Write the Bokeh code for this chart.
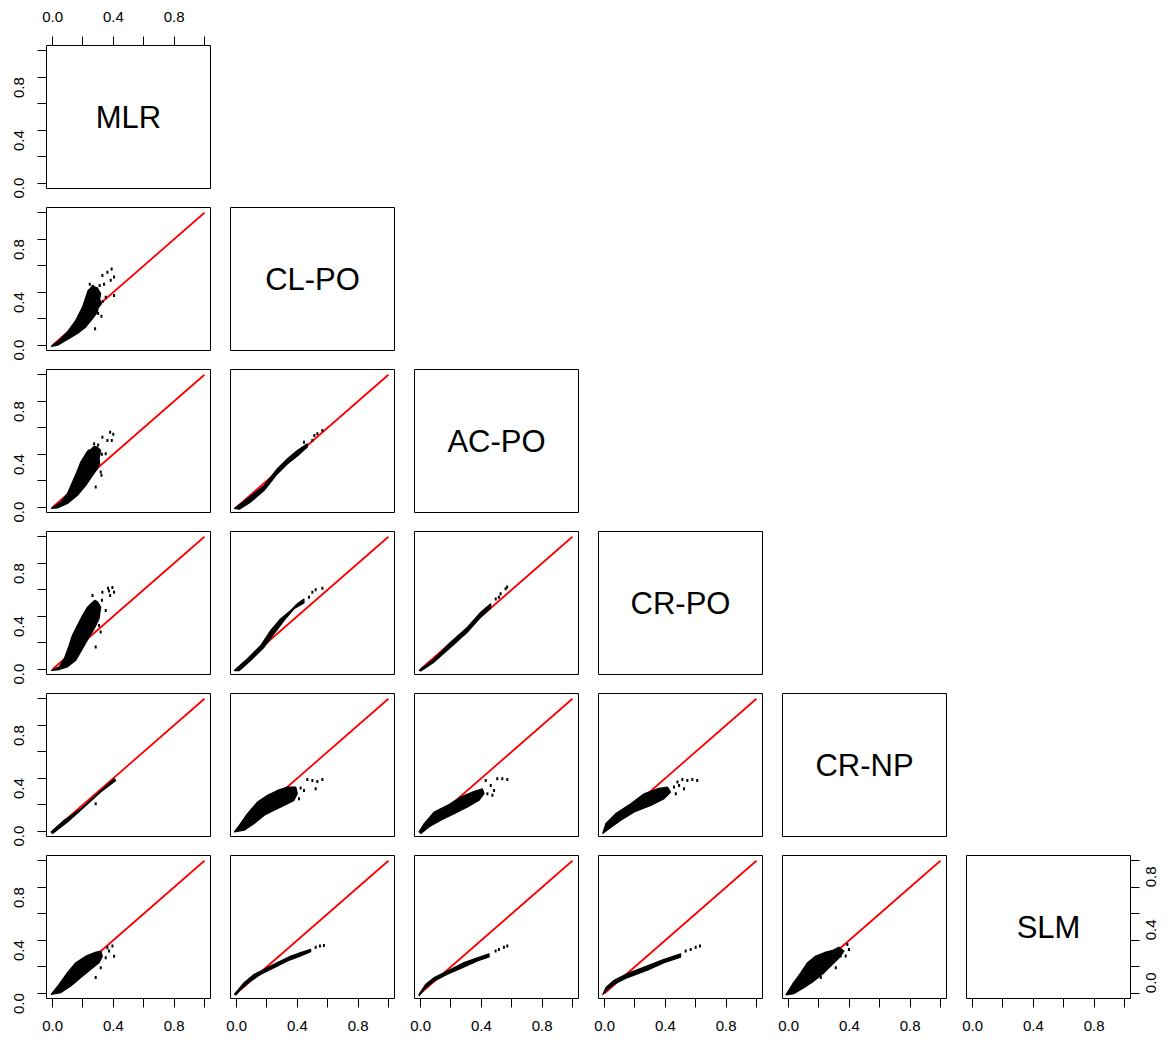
import math
from bokeh.plotting import figure
from bokeh.layouts import gridplot
from bokeh.models import LinearAxis, FixedTicker, Range1d
from bokeh.core.properties import value
from bokeh.embed import file_html
from bokeh.resources import INLINE

# ---------------- data ----------------
VARS = ["MLR", "CL-PO", "AC-PO", "CR-PO", "CR-NP", "SLM"]
TICKS = [0.0, 0.2, 0.4, 0.6, 0.8, 1.0]
TICK_LABELS = ["0.0", "", "0.4", "", "0.8", ""]
REF_LINE = [0.0, 1.0]          # the red y = x reference

# dense point clouds (outline of the black mass) and isolated points, per panel (y vs x)
CLPO_MLR_CLOUD = [(-0.01, -0.01), (0.044, 0.038), (0.098, 0.10), (0.153, 0.188), (0.197, 0.288),
                  (0.219, 0.363), (0.234, 0.414), (0.25, 0.43), (0.263, 0.452), (0.28, 0.44),
                  (0.295, 0.434), (0.306, 0.41), (0.317, 0.39), (0.31, 0.35), (0.322, 0.313),
                  (0.3, 0.28), (0.295, 0.25), (0.263, 0.2), (0.219, 0.138), (0.164, 0.088),
                  (0.098, 0.043), (0.033, 0.0)]
CLPO_MLR_OUT = [(0.328, 0.526), (0.361, 0.551), (0.389, 0.576), (0.405, 0.516), (0.383, 0.491),
                (0.339, 0.461), (0.405, 0.376), (0.28, 0.125), (0.322, 0.218), (0.35, 0.363),
                (0.245, 0.46), (0.31, 0.45), (0.33, 0.33), (0.3, 0.24)]

ACPO_MLR_CLOUD = [(-0.01, -0.01), (0.055, 0.04), (0.098, 0.103), (0.131, 0.19), (0.164, 0.278),
                  (0.186, 0.341), (0.219, 0.404), (0.235, 0.43), (0.252, 0.436), (0.275, 0.46),
                  (0.295, 0.454), (0.317, 0.429), (0.306, 0.366), (0.31, 0.33), (0.295, 0.291),
                  (0.263, 0.241), (0.219, 0.165), (0.164, 0.09), (0.098, 0.028), (0.033, -0.005)]
ACPO_MLR_OUT = [(0.328, 0.529), (0.379, 0.566), (0.4, 0.551), (0.361, 0.504), (0.39, 0.504),
                (0.35, 0.404), (0.317, 0.266), (0.284, 0.153), (0.322, 0.241), (0.274, 0.479),
                (0.3, 0.47), (0.325, 0.4)]

CRPO_MLR_CLOUD = [(-0.01, -0.01), (0.044, 0.018), (0.077, 0.08), (0.109, 0.18), (0.131, 0.256),
                  (0.164, 0.331), (0.197, 0.406), (0.23, 0.469), (0.263, 0.506), (0.28, 0.52),
                  (0.295, 0.51), (0.317, 0.469), (0.306, 0.381), (0.274, 0.306), (0.241, 0.243),
                  (0.197, 0.155), (0.153, 0.068), (0.098, 0.018), (0.033, -0.005)]
CRPO_MLR_OUT = [(0.328, 0.581), (0.365, 0.611), (0.394, 0.617), (0.405, 0.581), (0.379, 0.556),
                (0.372, 0.59), (0.35, 0.444), (0.317, 0.281), (0.284, 0.168), (0.306, 0.33),
                (0.263, 0.556), (0.325, 0.52)]

CRNP_MLR_CLOUD = [(-0.01, -0.005), (0.077, 0.083), (0.186, 0.17), (0.295, 0.283), (0.405, 0.396),
                  (0.416, 0.383), (0.317, 0.296), (0.208, 0.183), (0.098, 0.07), (0.0, -0.018)]
CRNP_MLR_OUT = [(0.284, 0.208)]

SLM_MLR_CLOUD = [(-0.01, -0.01), (0.044, 0.068), (0.098, 0.155), (0.153, 0.23), (0.219, 0.28),
                 (0.274, 0.306), (0.317, 0.318), (0.328, 0.28), (0.306, 0.23), (0.252, 0.18),
                 (0.186, 0.118), (0.12, 0.055), (0.055, 0.005)]
SLM_MLR_OUT = [(0.361, 0.343), (0.394, 0.356), (0.405, 0.28), (0.35, 0.268), (0.284, 0.118),
               (0.317, 0.193), (0.372, 0.318)]

ACPO_CLPO_CLOUD = [(-0.015, -0.01), (0.072, 0.065), (0.182, 0.165), (0.269, 0.291), (0.335, 0.366),
                   (0.4, 0.429), (0.466, 0.479), (0.466, 0.454), (0.4, 0.386), (0.335, 0.328),
                   (0.269, 0.253), (0.182, 0.128), (0.094, 0.04), (0.018, -0.015)]
ACPO_CLPO_OUT = [(0.499, 0.504), (0.532, 0.554), (0.565, 0.579), (0.444, 0.491), (0.512, 0.541)]

CRPO_CLPO_CLOUD = [(-0.015, -0.01), (0.072, 0.08), (0.16, 0.18), (0.225, 0.293), (0.291, 0.381),
                   (0.357, 0.444), (0.4, 0.494), (0.444, 0.531), (0.444, 0.501), (0.378, 0.456),
                   (0.313, 0.368), (0.247, 0.268), (0.182, 0.168), (0.094, 0.068), (0.018, -0.01)]
CRPO_CLPO_OUT = [(0.499, 0.581), (0.521, 0.6), (0.565, 0.612), (0.477, 0.544)]

CRNP_CLPO_CLOUD = [(-0.015, -0.005), (0.018, 0.045), (0.072, 0.133), (0.138, 0.221), (0.204, 0.271),
                   (0.269, 0.308), (0.335, 0.333), (0.39, 0.333), (0.4, 0.283), (0.378, 0.233),
                   (0.313, 0.195), (0.247, 0.158), (0.182, 0.12), (0.116, 0.058), (0.05, 0.008)]
CRNP_CLPO_OUT = [(0.466, 0.391), (0.499, 0.383), (0.532, 0.376), (0.565, 0.391), (0.521, 0.32),
                 (0.444, 0.308), (0.411, 0.246), (0.422, 0.326)]

SLM_CLPO_CLOUD = [(-0.015, -0.008), (0.05, 0.08), (0.116, 0.143), (0.182, 0.18), (0.269, 0.231),
                  (0.357, 0.281), (0.422, 0.306), (0.488, 0.331), (0.488, 0.313), (0.422, 0.281),
                  (0.335, 0.243), (0.247, 0.193), (0.16, 0.143), (0.094, 0.093), (0.028, 0.03),
                  (-0.004, -0.013)]
SLM_CLPO_OUT = [(0.521, 0.348), (0.549, 0.356), (0.575, 0.361)]

CRPO_ACPO_CLOUD = [(-0.01, -0.01), (0.09, 0.08), (0.2, 0.206), (0.309, 0.318), (0.396, 0.431),
                   (0.462, 0.494), (0.462, 0.461), (0.396, 0.393), (0.309, 0.281), (0.2, 0.168),
                   (0.09, 0.055), (0.002, -0.013)]
CRPO_ACPO_OUT = [(0.495, 0.531), (0.527, 0.569), (0.56, 0.607), (0.57, 0.62), (0.516, 0.544)]

CRNP_ACPO_CLOUD = [(-0.01, -0.005), (0.024, 0.058), (0.09, 0.145), (0.177, 0.195), (0.265, 0.258),
                   (0.341, 0.296), (0.407, 0.321), (0.418, 0.283), (0.385, 0.233), (0.309, 0.183),
                   (0.221, 0.133), (0.133, 0.083), (0.057, 0.033), (0.002, -0.018)]
CRNP_ACPO_OUT = [(0.505, 0.396), (0.538, 0.396), (0.571, 0.391), (0.462, 0.346), (0.484, 0.308),
                 (0.44, 0.283), (0.473, 0.271), (0.429, 0.383)]

SLM_ACPO_CLOUD = [(-0.01, -0.008), (0.035, 0.068), (0.09, 0.118), (0.177, 0.168), (0.287, 0.231),
                  (0.374, 0.268), (0.451, 0.298), (0.451, 0.273), (0.374, 0.243), (0.287, 0.198),
                  (0.177, 0.143), (0.09, 0.093), (0.024, 0.03), (-0.01, -0.02)]
SLM_ACPO_OUT = [(0.494, 0.318), (0.516, 0.331), (0.549, 0.348), (0.571, 0.356)]

CRNP_CRPO_CLOUD = [(-0.013, -0.018), (0.009, 0.058), (0.074, 0.133), (0.173, 0.208), (0.26, 0.283),
                   (0.348, 0.321), (0.414, 0.333), (0.435, 0.296), (0.392, 0.246), (0.304, 0.195),
                   (0.195, 0.145), (0.107, 0.083), (0.031, 0.02)]
CRNP_CRPO_OUT = [(0.48, 0.371), (0.512, 0.391), (0.545, 0.383), (0.578, 0.391), (0.61, 0.383),
                 (0.523, 0.321), (0.469, 0.283), (0.491, 0.346), (0.457, 0.333)]

SLM_CRPO_CLOUD = [(-0.013, -0.013), (0.009, 0.043), (0.063, 0.098), (0.151, 0.148), (0.282, 0.206),
                  (0.392, 0.256), (0.501, 0.298), (0.501, 0.273), (0.392, 0.231), (0.282, 0.173),
                  (0.151, 0.118), (0.063, 0.068), (0.009, 0.018)]
SLM_CRPO_OUT = [(0.534, 0.318), (0.567, 0.331), (0.6, 0.348), (0.628, 0.356)]

SLM_CRNP_CLOUD = [(-0.018, -0.013), (0.026, 0.068), (0.081, 0.155), (0.125, 0.231), (0.179, 0.281),
                  (0.234, 0.306), (0.289, 0.323), (0.333, 0.348), (0.365, 0.318), (0.333, 0.268),
                  (0.289, 0.218), (0.234, 0.155), (0.168, 0.093), (0.103, 0.043), (0.037, -0.003)]
SLM_CRNP_OUT = [(0.387, 0.368), (0.398, 0.331), (0.376, 0.281), (0.343, 0.281), (0.311, 0.193),
                (0.212, 0.118), (0.322, 0.318)]

PANELS = {
    (1, 0): (CLPO_MLR_CLOUD, CLPO_MLR_OUT),
    (2, 0): (ACPO_MLR_CLOUD, ACPO_MLR_OUT),
    (3, 0): (CRPO_MLR_CLOUD, CRPO_MLR_OUT),
    (4, 0): (CRNP_MLR_CLOUD, CRNP_MLR_OUT),
    (5, 0): (SLM_MLR_CLOUD, SLM_MLR_OUT),
    (2, 1): (ACPO_CLPO_CLOUD, ACPO_CLPO_OUT),
    (3, 1): (CRPO_CLPO_CLOUD, CRPO_CLPO_OUT),
    (4, 1): (CRNP_CLPO_CLOUD, CRNP_CLPO_OUT),
    (5, 1): (SLM_CLPO_CLOUD, SLM_CLPO_OUT),
    (3, 2): (CRPO_ACPO_CLOUD, CRPO_ACPO_OUT),
    (4, 2): (CRNP_ACPO_CLOUD, CRNP_ACPO_OUT),
    (5, 2): (SLM_ACPO_CLOUD, SLM_ACPO_OUT),
    (4, 3): (CRNP_CRPO_CLOUD, CRNP_CRPO_OUT),
    (5, 3): (SLM_CRPO_CLOUD, SLM_CRPO_OUT),
    (5, 4): (SLM_CRNP_CLOUD, SLM_CRNP_OUT),
}

# ---------------- drawing ----------------
FONT = "Liberation Sans"
N = len(VARS)
LABEL_MAP = {t: l for t, l in zip(TICKS, TICK_LABELS)}
STANDOFF = {"left": 18, "right": 12, "above": 15, "below": 13}


def add_axis(p, loc):
    ax = LinearAxis(ticker=FixedTicker(ticks=TICKS), major_label_overrides=LABEL_MAP,
                    bounds=(TICKS[0], TICKS[-1]),
                    major_tick_out=9, major_tick_in=0, minor_tick_line_color=None,
                    axis_line_color="black", major_tick_line_color="black",
                    major_label_text_font=FONT, major_label_text_font_size="15px",
                    major_label_text_color="black", major_label_standoff=STANDOFF[loc])
    if loc in ("left", "right"):
        ax.major_label_orientation = math.pi / 2
    p.add_layout(ax, loc)


def make_fig(i, j):
    left = 46 if j == 0 else 10
    right = 39 if (i == N - 1 and j == N - 1) else 10
    top = 45 if i == 0 else 9
    bottom = 41 if i == N - 1 else 10
    p = figure(frame_width=164, frame_height=143,
               x_range=Range1d(-0.04, 1.04), y_range=Range1d(-0.04, 1.04),
               x_axis_location=None, y_axis_location=None,
               toolbar_location=None, output_backend="svg",
               min_border_left=left, min_border_right=right,
               min_border_top=top, min_border_bottom=bottom,
               background_fill_color="white", border_fill_color="white",
               outline_line_color="black", outline_line_width=1, outline_line_alpha=1)
    p.grid.visible = False
    if j == 0:
        add_axis(p, "left")
    if i == 0 and j == 0:
        add_axis(p, "above")
    if i == N - 1:
        add_axis(p, "below")
    if i == N - 1 and j == N - 1:
        add_axis(p, "right")

    if i == j:
        mid = (REF_LINE[0] + REF_LINE[1]) / 2
        p.text(x=[mid], y=[mid], text=[VARS[i]], text_font=value(FONT),
               text_font_size="31px", text_align="center", text_baseline="middle",
               text_color="black")
    else:
        cloud, out = PANELS[(i, j)]
        p.line(REF_LINE, REF_LINE, line_color="#ff0000", line_width=1.8)
        p.patch([c[0] for c in cloud], [c[1] for c in cloud], fill_color="black",
                line_color="black", line_width=1.2)
        p.rect([o[0] for o in out], [o[1] for o in out], width=2, height=3,
               width_units="screen", height_units="screen", fill_color="black", line_color=None)
    return p


rows = []
for i in range(N):
    row = []
    for j in range(N):
        row.append(make_fig(i, j) if j <= i else None)
    rows.append(row)

grid = gridplot(rows, toolbar_location=None)
open("out.html", "w").write(file_html(grid, INLINE))
